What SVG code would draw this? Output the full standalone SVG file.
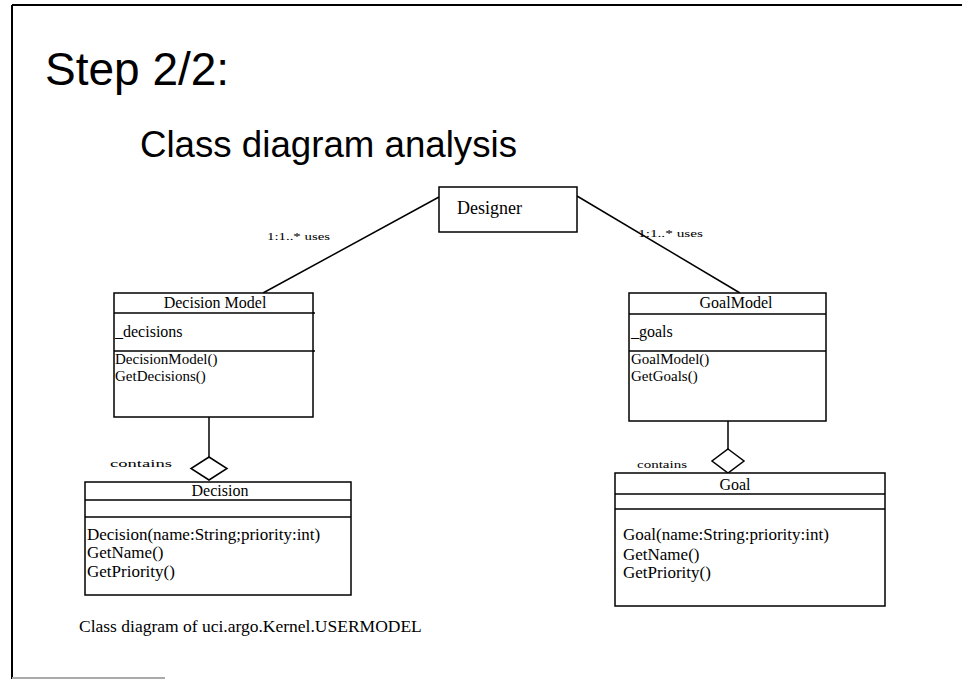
<svg xmlns="http://www.w3.org/2000/svg" width="962" height="679" viewBox="0 0 962 679">
<style>
.frame{stroke:#000;stroke-width:2;fill:none}
.box{fill:#fff;stroke:#000;stroke-width:1.5}
.div{stroke:#000;stroke-width:1.5}
.conn{stroke:#000;stroke-width:1.5;fill:none}
.t{font-family:"Liberation Serif","Times New Roman",serif;fill:#000}
.h{font-family:"Liberation Sans",Arial,sans-serif;fill:#000}
.small{font-size:11px}
.cls{font-size:16px}
.m{font-size:15px}
.op{font-size:17px}
</style>
<rect width="962" height="679" fill="#fff"/>
<g id="frame">
<line class="frame" x1="12" y1="5" x2="962" y2="5"/>
<line class="frame" x1="12" y1="5" x2="12" y2="679"/>
<line x1="12" y1="678" x2="165" y2="678" stroke="#aaa" stroke-width="2"/>
</g>
<g id="titles">
<text class="h" x="45" y="85" font-size="46">Step 2/2:</text>
<text class="h" x="140" y="157" font-size="36" textLength="377" lengthAdjust="spacingAndGlyphs">Class diagram analysis</text>
</g>
<g id="connectors">
<line class="conn" x1="439" y1="197" x2="263" y2="293"/>
<line class="conn" x1="577" y1="196" x2="740" y2="293"/>
<line class="conn" x1="209" y1="417" x2="209" y2="457"/>
<path class="conn" d="M209,457 L227,468.5 L209,480 L191,468.5 Z" fill="#fff" stroke-width="2"/>
<line class="conn" x1="728" y1="421" x2="728" y2="449"/>
<path class="conn" d="M728,449 L744,461 L728,473 L712,461 Z" fill="#fff" stroke-width="2"/>
<text class="t small" x="267" y="240" textLength="63" lengthAdjust="spacingAndGlyphs">1:1..* uses</text>
<text class="t small" x="638" y="237" textLength="65" lengthAdjust="spacingAndGlyphs">1:1..* uses</text>
<text class="t small" x="110" y="467" textLength="62" lengthAdjust="spacingAndGlyphs">contains</text>
<text class="t small" x="637" y="468" textLength="50" lengthAdjust="spacingAndGlyphs">contains</text>
</g>
<g id="designer">
<rect class="box" x="439" y="187" width="138" height="45"/>
<text class="t" x="457" y="214" font-size="18">Designer</text>
</g>
<g id="decision-model">
<rect class="box" x="114" y="293" width="199" height="124"/>
<line class="div" x1="114" y1="313" x2="315" y2="313"/>
<line class="div" x1="114" y1="351" x2="315" y2="351"/>
<text class="t cls" x="215" y="308" text-anchor="middle">Decision Model</text>
<text class="t cls" x="115" y="337">_decisions</text>
<text class="t m" x="115" y="364">DecisionModel()</text>
<text class="t m" x="115" y="381">GetDecisions()</text>
</g>
<g id="goal-model">
<rect class="box" x="629" y="293" width="197" height="128"/>
<line class="div" x1="629" y1="314" x2="826" y2="314"/>
<line class="div" x1="629" y1="351" x2="826" y2="351"/>
<text class="t cls" x="736" y="308" text-anchor="middle">GoalModel</text>
<text class="t cls" x="631" y="337">_goals</text>
<text class="t m" x="631" y="364">GoalModel()</text>
<text class="t m" x="631" y="381">GetGoals()</text>
</g>
<g id="decision">
<rect class="box" x="85" y="482" width="266" height="113"/>
<line class="div" x1="85" y1="500" x2="351" y2="500"/>
<line class="div" x1="85" y1="517" x2="351" y2="517"/>
<text class="t cls" x="220" y="496" text-anchor="middle">Decision</text>
<text class="t op" x="87" y="540">Decision(name:String;priority:int)</text>
<text class="t op" x="87" y="558">GetName()</text>
<text class="t op" x="87" y="577">GetPriority()</text>
</g>
<g id="goal">
<rect class="box" x="615" y="473" width="270" height="133"/>
<line class="div" x1="615" y1="494" x2="885" y2="494"/>
<line class="div" x1="615" y1="509" x2="885" y2="509"/>
<text class="t cls" x="735" y="490" text-anchor="middle">Goal</text>
<text class="t op" x="623" y="540">Goal(name:String:priority:int)</text>
<text class="t op" x="623" y="560">GetName()</text>
<text class="t op" x="623" y="578">GetPriority()</text>
</g>
<g id="caption">
<text class="t" x="79" y="632" font-size="17.5">Class diagram of uci.argo.Kernel.USERMODEL</text>
</g>
</svg>
